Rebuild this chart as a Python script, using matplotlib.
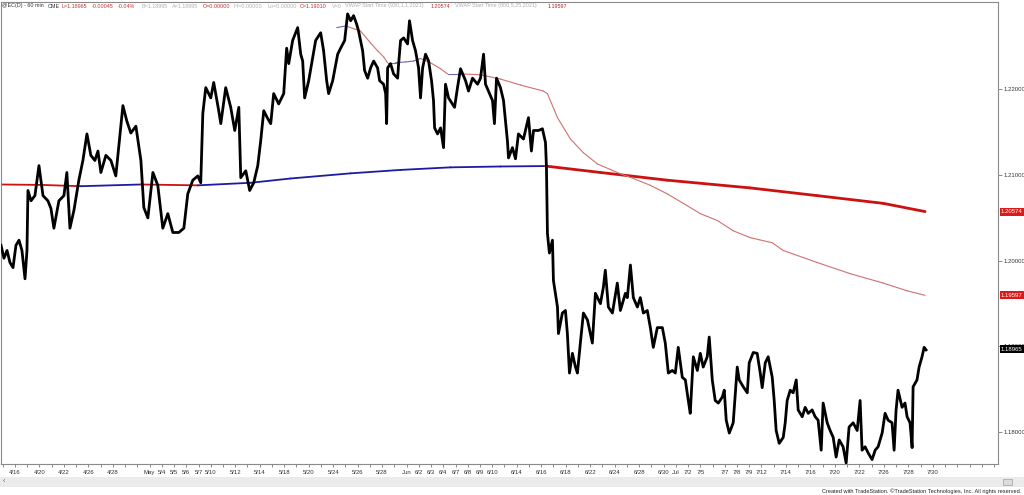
import numpy as np
import matplotlib
matplotlib.use("Agg")
import matplotlib.pyplot as plt
from matplotlib.patches import Rectangle
from matplotlib.transforms import blended_transform_factory

plt.rcParams["font.family"] = ["Liberation Sans", "DejaVu Sans"]

# EUR/USD futures, 60 min. x = trading days counted from 4/16/2021
bar_day = [
    -1.14, -0.90, -0.65, -0.41, -0.16, 0.08, 0.33, 0.57, 0.82, 0.98, 1.06, 1.31, 1.63, 1.96, 2.29,
    2.69, 2.94, 3.18, 3.59, 4.00, 4.24, 4.49, 4.82, 5.22, 5.55, 5.88, 6.20, 6.53, 6.78, 7.02, 7.43,
    7.84, 8.24, 8.49, 8.82, 9.14, 9.47, 9.88, 10.29, 10.53, 10.86, 11.27, 11.67, 12.08, 12.49, 12.90,
    13.39, 13.80, 14.12, 14.53, 14.94, 15.18, 15.35, 15.59, 16.00, 16.24, 16.65, 16.82, 17.22, 17.63,
    17.96, 18.29, 18.45, 18.86, 19.18, 19.51, 19.84, 20.08, 20.33, 20.65, 20.90, 21.14, 21.55, 21.96,
    22.20, 22.37, 22.69, 23.10, 23.35, 23.51, 23.67, 24.00, 24.33, 24.57, 24.98, 25.22, 25.47, 25.63,
    25.96, 26.37, 26.61, 26.94, 27.18, 27.43, 27.67, 27.92, 28.08, 28.41, 28.57, 28.82, 29.06, 29.31,
    29.63, 29.80, 30.12, 30.29, 30.37, 30.45, 30.69, 30.94, 31.27, 31.35, 31.51, 31.76, 32.08, 32.24,
    32.49, 32.73, 32.98, 33.14, 33.31, 33.55, 33.80, 34.04, 34.20, 34.29, 34.53, 34.78, 35.02, 35.18,
    35.43, 35.92, 36.16, 36.41, 36.82, 37.06, 37.39, 37.80, 38.04, 38.29, 38.45, 38.69, 39.02, 39.18,
    39.35, 39.67, 39.92, 40.24, 40.33, 40.65, 40.90, 41.14, 41.55, 41.96, 42.20, 42.37, 42.78, 43.10,
    43.35, 43.43, 43.51, 43.67, 43.92, 44.00, 44.33, 44.41, 44.73, 44.98, 45.14, 45.31, 45.55, 45.80,
    45.96, 46.20, 46.45, 46.78, 47.02, 47.18, 47.43, 47.84, 48.08, 48.24, 48.49, 48.82, 49.22, 49.47,
    49.88, 50.04, 50.29, 50.53, 50.86, 51.10, 51.35, 51.67, 51.92, 52.16, 52.49, 52.90, 53.14, 53.39,
    53.71, 53.96, 54.20, 54.53, 54.78, 55.02, 55.18, 55.43, 55.76, 56.00, 56.24, 56.57, 56.73, 56.98,
    57.22, 57.47, 57.80, 57.96, 58.12, 58.37, 58.69, 59.02, 59.18, 59.51, 59.84, 60.00, 60.33, 60.65,
    60.90, 61.06, 61.31, 61.55, 61.88, 62.04, 62.20, 62.45, 62.78, 62.94, 63.10, 63.35, 63.59, 63.84,
    64.00, 64.33, 64.57, 64.82, 65.14, 65.39, 65.63, 65.88, 66.04, 66.37, 66.61, 66.86, 67.10, 67.35,
    67.67, 67.92, 68.16, 68.49, 68.82, 69.06, 69.22, 69.47, 69.71, 70.04, 70.29, 70.53, 70.86, 71.10,
    71.35, 71.67, 71.84, 72.00, 72.16, 72.49, 72.73, 72.90, 73.14, 73.31, 73.39, 73.71, 73.88, 74.12,
    74.29, 74.45,
]
bar_close = [
    1.2018, 1.2003, 1.2012, 1.1998, 1.1992, 1.2018, 1.2024, 1.2012, 1.1979, 1.2012, 1.2082, 1.2070,
    1.2076, 1.2111, 1.2076, 1.2070, 1.2061, 1.2038, 1.2070, 1.2076, 1.2103, 1.2038, 1.2059, 1.2094,
    1.2117, 1.2148, 1.2123, 1.2117, 1.2128, 1.2103, 1.2123, 1.2117, 1.2099, 1.2134, 1.2181, 1.2163,
    1.2149, 1.2157, 1.2117, 1.2062, 1.2050, 1.2103, 1.2088, 1.2038, 1.2055, 1.2033, 1.2033, 1.2038,
    1.2078, 1.2094, 1.2099, 1.2091, 1.2172, 1.2202, 1.2190, 1.2208, 1.2175, 1.2160, 1.2202, 1.2179,
    1.2152, 1.2179, 1.2097, 1.2105, 1.2082, 1.2091, 1.2111, 1.2140, 1.2175, 1.2166, 1.2160, 1.2195,
    1.2183, 1.2195, 1.2248, 1.2230, 1.2257, 1.2272, 1.2241, 1.2233, 1.2190, 1.2210, 1.2237, 1.2257,
    1.2266, 1.2245, 1.2210, 1.2195, 1.2210, 1.2241, 1.2248, 1.2257, 1.2288, 1.2280, 1.2286, 1.2276,
    1.2268, 1.2245, 1.2222, 1.2213, 1.2225, 1.2233, 1.2225, 1.2210, 1.2206, 1.2195, 1.2160, 1.2225,
    1.2230, 1.2218, 1.2213, 1.2230, 1.2257, 1.2260, 1.2253, 1.2280, 1.2257, 1.2245, 1.2225, 1.2190,
    1.2225, 1.2241, 1.2233, 1.2210, 1.2187, 1.2155, 1.2148, 1.2155, 1.2132, 1.2206, 1.2190, 1.2179,
    1.2202, 1.2224, 1.2210, 1.2198, 1.2213, 1.2206, 1.2213, 1.2241, 1.2206, 1.2198, 1.2187, 1.2160,
    1.2213, 1.2202, 1.2187, 1.2140, 1.2120, 1.2132, 1.2119, 1.2148, 1.2142, 1.2167, 1.2128, 1.2152,
    1.2152, 1.2154, 1.2138, 1.2109, 1.2032, 1.2009, 1.2024, 1.1977, 1.1946, 1.1915, 1.1939, 1.1942,
    1.1915, 1.1869, 1.1892, 1.1876, 1.1869, 1.1904, 1.1939, 1.1931, 1.1915, 1.1904, 1.1962, 1.1950,
    1.1969, 1.1989, 1.1946, 1.1939, 1.1974, 1.1942, 1.1962, 1.1957, 1.1995, 1.1957, 1.1946, 1.1957,
    1.1939, 1.1942, 1.1922, 1.1899, 1.1922, 1.1922, 1.1904, 1.1869, 1.1872, 1.1869, 1.1899, 1.1864,
    1.1861, 1.1837, 1.1822, 1.1888, 1.1872, 1.1892, 1.1876, 1.1888, 1.1911, 1.1861, 1.1837, 1.1834,
    1.1841, 1.1849, 1.1814, 1.1799, 1.1811, 1.1876, 1.1861, 1.1853, 1.1846, 1.1881, 1.1893, 1.1892,
    1.1869, 1.1852, 1.1881, 1.1888, 1.1864, 1.1837, 1.1802, 1.1787, 1.1794, 1.1811, 1.1837, 1.1849,
    1.1846, 1.1861, 1.1826, 1.1818, 1.1829, 1.1822, 1.1826, 1.1818, 1.1814, 1.1779, 1.1834, 1.1811,
    1.1802, 1.1794, 1.1771, 1.1791, 1.1783, 1.1764, 1.1806, 1.1811, 1.1802, 1.1837, 1.1779, 1.1783,
    1.1776, 1.1768, 1.1779, 1.1783, 1.1799, 1.1822, 1.1814, 1.1811, 1.1779, 1.1826, 1.1849, 1.1829,
    1.1834, 1.1818, 1.1811, 1.1782, 1.1853, 1.1861, 1.1876, 1.1888, 1.1899, 1.1896,
]

# VWAP anchored 1/1/2021
vwap_year_day = [-1.14, 2.12, 5.39, 10.29, 14.94, 19.27, 22.53, 27.43, 31.51, 35.59, 39.67, 43.35,
                 47.84, 53.31, 60.08, 65.55, 70.94, 74.37]
vwap_year = [1.2089, 1.20885, 1.2087, 1.2089, 1.2088, 1.2091, 1.2096, 1.2102, 1.2106, 1.2109,
             1.2110, 1.21105, 1.2103, 1.2094, 1.2085, 1.2076, 1.2067, 1.20574]

# VWAP anchored 5/25/2021
vwap_may_day = [26.29, 27.02, 28.24, 29.06, 29.63, 30.12, 30.45, 31.10, 31.92, 32.57, 33.14, 33.96,
                34.78, 35.35, 36.41, 38.04, 39.67, 41.31, 43.18, 43.51, 44.33, 45.39, 46.45, 47.59,
                49.22, 50.53, 51.92, 53.31, 54.61, 56.00, 57.39, 58.69, 60.08, 61.88, 62.78, 65.55,
                68.24, 70.94, 72.90, 74.37]
vwap_may = [1.2272, 1.2274, 1.2268, 1.2254, 1.2245, 1.2238, 1.2231, 1.2231, 1.2232, 1.2233, 1.2236,
            1.2231, 1.2224, 1.2218, 1.2218, 1.2217, 1.2212, 1.2205, 1.2198, 1.2195, 1.2167, 1.2142,
            1.2126, 1.2113, 1.2103, 1.2096, 1.2088, 1.2078, 1.2067, 1.2055, 1.2047, 1.2035, 1.2027,
            1.2021, 1.2012, 1.1998, 1.1985, 1.1974, 1.1965, 1.19597]

last_price = 1.18965

date_labels = ["4/16", "4/20", "4/22", "4/26", "4/28", "May", "5/4", "5/5", "5/6", "5/7", "5/10",
               "5/12", "5/14", "5/18", "5/20", "5/24", "5/26", "5/28", "Jun", "6/2", "6/3", "6/4",
               "6/7", "6/8", "6/9", "6/10", "6/14", "6/16", "6/18", "6/22", "6/24", "6/28", "6/30",
               "Jul", "7/2", "7/5", "7/7", "7/8", "7/9", "7/12", "7/14", "7/16", "7/20", "7/22",
               "7/26", "7/28", "7/30"]
label_dates = ["2021-04-16", "2021-04-20", "2021-04-22", "2021-04-26", "2021-04-28", "2021-05-03",
               "2021-05-04", "2021-05-05", "2021-05-06", "2021-05-07", "2021-05-10", "2021-05-12",
               "2021-05-14", "2021-05-18", "2021-05-20", "2021-05-24", "2021-05-26", "2021-05-28",
               "2021-06-01", "2021-06-02", "2021-06-03", "2021-06-04", "2021-06-07", "2021-06-08",
               "2021-06-09", "2021-06-10", "2021-06-14", "2021-06-16", "2021-06-18", "2021-06-22",
               "2021-06-24", "2021-06-28", "2021-06-30", "2021-07-01", "2021-07-02", "2021-07-05",
               "2021-07-07", "2021-07-08", "2021-07-09", "2021-07-12", "2021-07-14", "2021-07-16",
               "2021-07-20", "2021-07-22", "2021-07-26", "2021-07-28", "2021-07-30"]

header = [
    ("@EC(D) - 60 min", 2, "#333333"), ("CME", 48, "#333333"), ("L=1.18965", 62, "#c03030"),
    ("-0.00045", 92, "#c03030"), ("-0.04%", 118, "#c03030"), ("B=1.18995", 141, "#b0b0b0"),
    ("A=1.18995", 172, "#b0b0b0"), ("O=0.00000", 203, "#c03030"), ("Hi=0.00000", 234, "#b0b0b0"),
    ("Lo=0.00000", 267, "#b0b0b0"), ("C=1.19010", 300, "#c03030"), ("V=0", 332, "#b0b0b0"),
    ("VWAP Start Time (930,1,1,2021)", 345, "#b0b0b0"), ("1.20574", 431, "#c03030"),
    ("VWAP Start Time (800,5,25,2021)", 455, "#b0b0b0"), ("1.19597", 548, "#b02020"),
]

W, H = 1024, 495
fig = plt.figure(figsize=(W / 100, H / 100), dpi=100)
ax = fig.add_axes([0.001, 31 / H, 997 / W, 462 / H])
ax.set_xlim(-1.14, 80.33)
ax.set_ylim(1.17629, 1.23019)


def draw_sloped(days, vals, lw_fn, red, blue):
    # TradeStation colours the VWAP by direction: rising blue, falling red
    for i in range(len(days) - 1):
        c = blue if vals[i + 1] >= vals[i] else red
        ax.plot(days[i:i + 2], vals[i:i + 2], color=c, lw=lw_fn(days[i]),
                solid_capstyle="round", zorder=2)


draw_sloped(vwap_year_day, vwap_year, lambda d: 2.0 if d >= 43 else 1.3, "#cc1111", "#1c1ca0")
draw_sloped(vwap_may_day, vwap_may, lambda d: 0.8, "#d07070", "#6a6ab0")

ax.plot(bar_day, bar_close, color="black", lw=2.0, zorder=3)

for s in ax.spines.values():
    s.set_color("#8a8a8a")
    s.set_linewidth(0.8)

ax.yaxis.tick_right()
yt = np.arange(1.18, 1.2201, 0.01)
ax.set_yticks(yt)
ax.set_yticklabels([f"{v:.5f}" for v in yt])
ax.tick_params(axis="y", length=3, width=0.6, color="#777777", labelsize=4.3, pad=1,
               labelcolor="#333333")

tick_pos = [int(np.busday_count("2021-04-16", d)) for d in label_dates]
ax.set_xticks(tick_pos)
ax.set_xticklabels(date_labels)
ax.set_xticks(np.arange(-1, 81), minor=True)
ax.tick_params(axis="x", which="both", length=2.5, width=0.6, color="#777777",
               labelsize=4.3, pad=1.5, labelcolor="#333333")

tr = blended_transform_factory(ax.transAxes, ax.transData)
for val, col in [(vwap_year[-1], "#dd1a1a"), (vwap_may[-1], "#dd1a1a"), (last_price, "black")]:
    ax.text(1.003, val, f"{val:.5f}", transform=tr, fontsize=4.3, color="white", va="center",
            ha="left", clip_on=False, zorder=6,
            bbox=dict(boxstyle="square,pad=0.25", fc=col, ec="none"))

for txt, xp, col in header:
    fig.text(xp / W, 1 - 6 / H, txt, fontsize=3.9, color=col, va="center", ha="left")

fig.patches.append(Rectangle((0, (H - 487) / H), 1, 10 / H, transform=fig.transFigure,
                             fc="#ebebeb", ec="none", zorder=0))
fig.patches.append(Rectangle((1003 / W, (H - 485) / H), 9 / W, 6 / H, transform=fig.transFigure,
                             fc="#dcdcdc", ec="#a0a0a0", lw=0.5))
fig.text(3 / W, 1 - 482 / H, "‹", fontsize=5, color="#555555", va="center")
fig.text(1021 / W, 1 - 491 / H,
         "Created with TradeStation. \u00a9TradeStation Technologies, Inc. All rights reserved.",
         fontsize=4.1, color="#222222", va="center", ha="right")

fig.savefig("out.png", dpi=100)
